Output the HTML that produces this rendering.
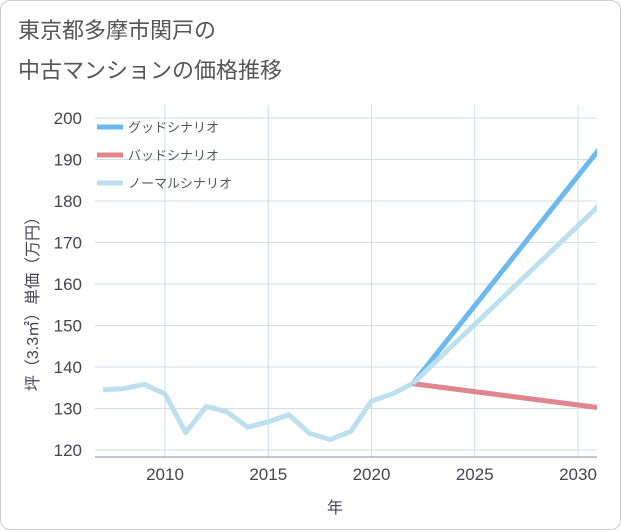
<!DOCTYPE html>
<html><head><meta charset="utf-8"><style>
body{margin:0;background:#fff}
#wrap{position:relative;width:619px;height:528px;border:1px solid #ccc;border-radius:10px;background:#fff;font-family:"Liberation Sans","Noto Sans CJK JP",sans-serif;overflow:hidden}
</style></head><body>
<div id="wrap">
<svg id="c" width="621" height="530" style="position:absolute;left:-1px;top:-1px"></svg>
</div>
<script>
const years=[2007,2008,2009,2010,2011,2012,2013,2014,2015,2016,2017,2018,2019,2020,2021,2022];
const normalHist=[134.5,134.8,135.8,133.5,124.2,130.5,129.2,125.5,126.8,128.5,124.0,122.5,124.5,131.8,133.5,136];
const projYears=[2022,2031];
const goodVals=[136,192.3];
const badVals=[136,130.2];
const normVals=[136,178.8];
const yTicks=[120,130,140,150,160,170,180,190,200];
const xTicks=[2010,2015,2020,2025,2030];
const legendLabels=["グッドシナリオ","バッドシナリオ","ノーマルシナリオ"];
const ns="http://www.w3.org/2000/svg",svg=document.getElementById('c');
const L=95,R=597,T=105,B=457;
const X=y=>165+(y-2010)*20.65, Y=v=>118+(200-v)*4.15;
function mk(t,a,p){const e=document.createElementNS(ns,t);for(const k in a)e.setAttribute(k,a[k]);(p||svg).appendChild(e);return e;}
let e;
const cp=mk('clipPath',{id:'pc'});mk('rect',{x:L,y:T-10,width:R-L,height:B-T+10},cp);
e=mk('text',{x:18,y:38,'font-size':22,fill:'#555'});e.textContent='東京都多摩市関戸の';


e=mk('text',{x:18,y:78,'font-size':22,fill:'#555'});e.textContent='中古マンションの価格推移';


yTicks.forEach(v=>{e=mk('line',{x1:L,x2:R,y1:Y(v),y2:Y(v),stroke:'#d5dde8','stroke-width':1});


e=mk('text',{x:82,y:Y(v)+6,'font-size':17,fill:'#445','text-anchor':'end'});e.textContent=v;

});
xTicks.forEach(v=>{e=mk('line',{x1:X(v),x2:X(v),y1:T,y2:B,stroke:'#c8dcee','stroke-width':1});


e=mk('text',{x:X(v),y:480,'font-size':17,fill:'#445','text-anchor':'middle'});e.textContent=v;

});
e=mk('line',{x1:L,x2:R,y1:B,y2:B,stroke:'#889','stroke-width':1});


e=mk('text',{x:335,y:513,'font-size':16,fill:'#445','text-anchor':'middle'});e.textContent='年';


e=mk('text',{x:0,y:0,'font-size':16,fill:'#445','text-anchor':'middle',transform:'translate(38,300) rotate(-90)'});e.textContent='坪（3.3㎡）単価（万円）';


function line(xs,vs,col,name){const p=xs.map((x,i)=>(i?'L':'M')+X(x)+','+Y(vs[i])).join('');
const el=mk('path',{d:p,fill:'none',stroke:col,'stroke-width':5,'stroke-linejoin':'round','clip-path':'url(#pc)'});

}
line(years,normalHist,'#bde0ee','normal-history-line');
line(projYears,badVals,'#e0868e','bad-scenario-line');
line(projYears,goodVals,'#6bb9ee','good-scenario-line');
line(projYears,normVals,'#bde0ee','normal-scenario-line');
const lc=['#6bb9ee','#e0868e','#bde0ee'];
legendLabels.forEach((s,i)=>{const y=127+i*28;
e=mk('line',{x1:97,x2:123,y1:y,y2:y,stroke:lc[i],'stroke-width':5});


e=mk('text',{x:128,y:y+5,'font-size':13,fill:'#555'});e.textContent=s;

});
</script>
</body></html>
